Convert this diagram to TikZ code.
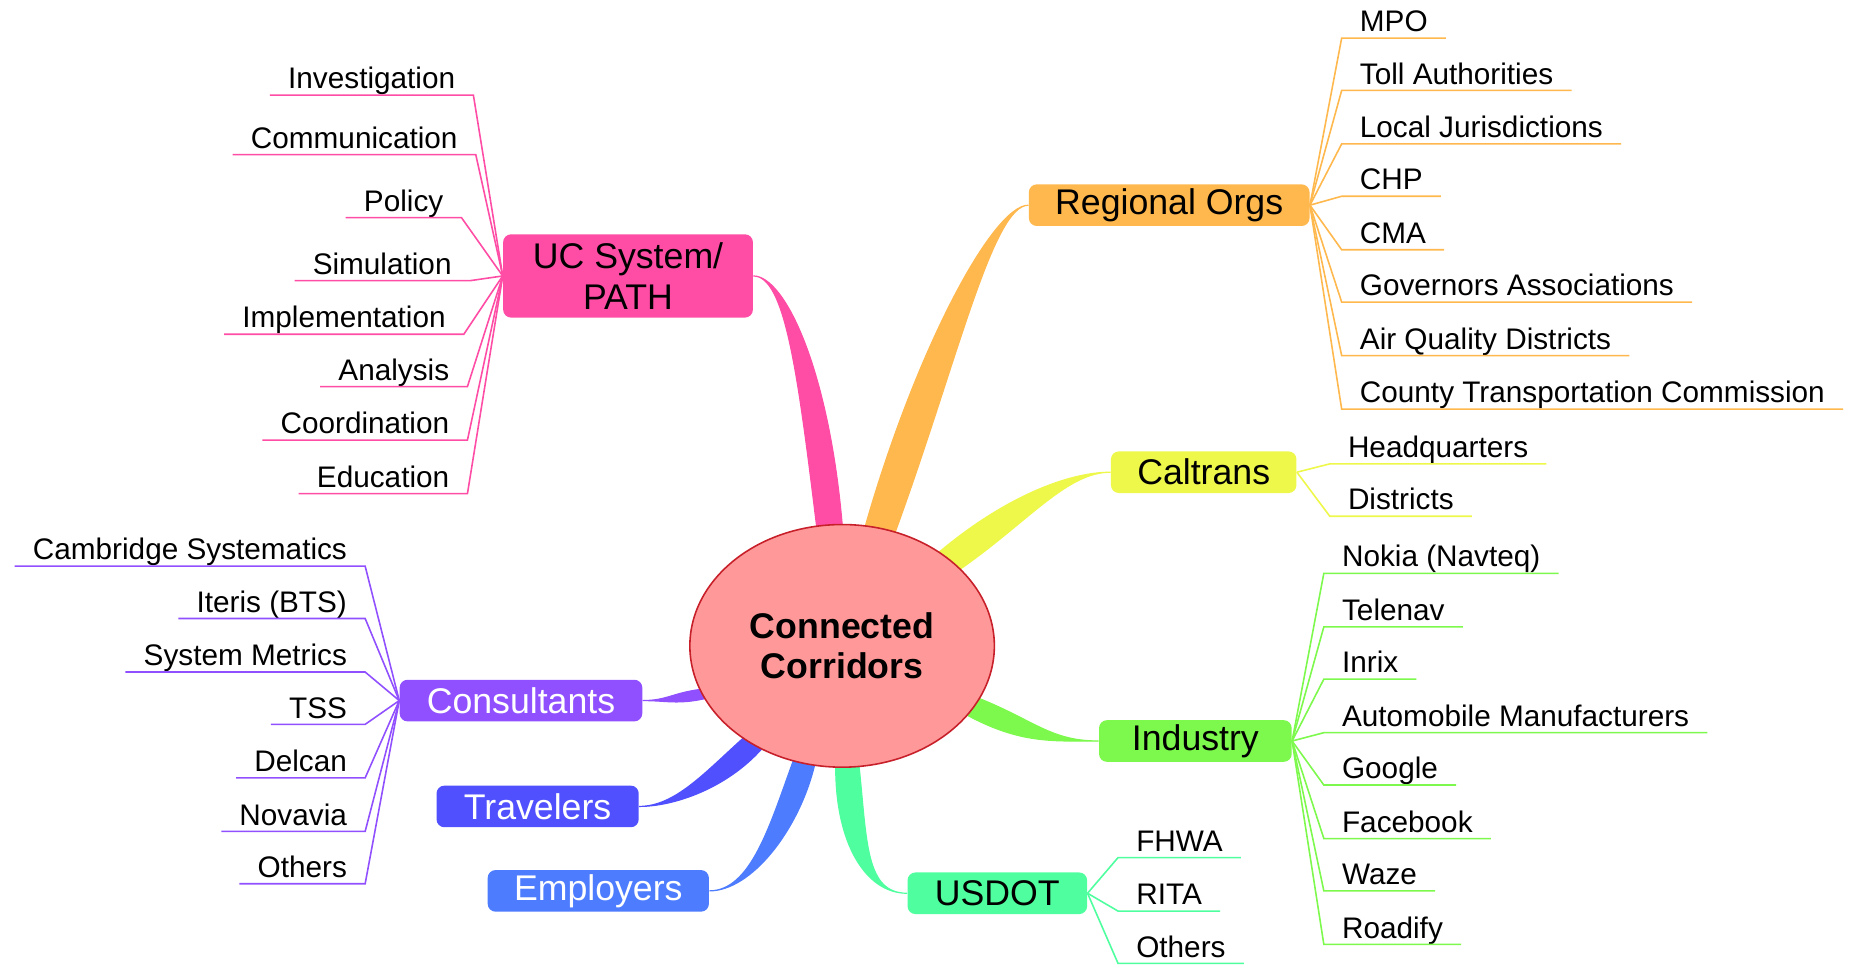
\documentclass[tikz,border=0pt]{standalone}
\usepackage{fontspec}
\setmainfont{Liberation Sans}
\usepackage{xcolor}
\usepackage{tikz}
\usetikzlibrary{shapes.geometric,backgrounds}

\definecolor{hubfill}{HTML}{FF9999}
\definecolor{hubline}{HTML}{C8202A}
\definecolor{ucpink}{HTML}{FF4DA6}
\definecolor{orgorange}{HTML}{FFB84D}
\definecolor{ctyellow}{HTML}{EEF84A}
\definecolor{indgreen}{HTML}{7CF94C}
\definecolor{dotmint}{HTML}{4FFF9F}
\definecolor{empblue}{HTML}{4D7CFF}
\definecolor{travindigo}{HTML}{5050FF}
\definecolor{conpurple}{HTML}{9050FF}

\begin{document}
\begin{tikzpicture}[x=0.6pt, y=0.6pt,
    hub/.style={ellipse, draw=hubline, fill=hubfill, line width=0.8pt,
      minimum width=153.6pt, minimum height=122.4pt, inner sep=0pt,
      font=\bfseries\fontsize{18}{20}\selectfont, align=center},
    branch/.style={rounded corners=4pt, minimum height=21pt, inner xsep=4pt,
      inner ysep=0pt, font=\fontsize{18}{20.4}\selectfont, align=center},
    leaf/.style={font=\fontsize{15}{18}\selectfont, inner xsep=9pt, inner ysep=0pt,
      text height=11pt, text depth=3pt},
    twig/.style={line width=0.8pt},
    limb/.style={line width=0.6pt}
  ]
    \useasboundingbox (0,0) rectangle (1568,-818);

    % Centre
    \node[hub] (cc) at (708,-543) {Connected\\Corridors};

    % Main branches
    \node[branch, fill=ucpink, minimum width=126pt, minimum height=42pt] (uc) at (528,-232) {UC System/\\PATH};
    \node[branch, fill=orgorange, minimum width=141.6pt] (ro) at (983,-172.5) {Regional Orgs};
    \node[branch, fill=ctyellow, minimum width=93.6pt] (ct) at (1012,-397) {Caltrans};
    \node[branch, fill=indgreen, minimum width=97.2pt] (ind) at (1005,-623) {Industry};
    \node[branch, fill=dotmint, minimum width=90.6pt] (dot) at (838.5,-751) {USDOT};
    \node[branch, fill=empblue, text=white, minimum width=111.6pt] (emp) at (503,-749) {Employers};
    \node[branch, fill=travindigo, text=white, minimum width=102pt] (trv) at (452,-678) {Travelers};
    \node[branch, fill=conpurple, text=white, minimum width=122.4pt] (con) at (438,-589) {Consultants};

    % Tapered limbs, tucked under the centre
    \begin{scope}[on background layer]
      \filldraw[limb, ucpink] (cc.102) to[out=97, in=0, out distance=78pt, in distance=16pt] (uc.east)
        to[out=0, in=95, out distance=16pt, in distance=78pt] (cc.90) -- cycle;
      \filldraw[limb, orgorange] (cc.79) to[out=74, in=180, out distance=92pt, in distance=18pt] (ro.west)
        to[out=180, in=70, out distance=18pt, in distance=92pt] (cc.65) -- cycle;
      \filldraw[limb, ctyellow] (cc.44) to[out=40, in=180, out distance=42pt, in distance=22pt] (ct.west)
        to[out=180, in=35, out distance=22pt, in distance=42pt] (cc.33) -- cycle;
      \filldraw[limb, indgreen] (cc.-21) to[out=-22, in=180, out distance=30pt, in distance=24pt] (ind.west)
        to[out=180, in=-28, out distance=24pt, in distance=30pt] (cc.-29) -- cycle;
      \filldraw[limb, dotmint] (cc.-93) to[out=-90, in=180, out distance=38pt, in distance=21pt] (dot.west)
        to[out=180, in=-84, out distance=21pt, in distance=38pt] (cc.-82) -- cycle;
      \filldraw[limb, empblue] (cc.-113) to[out=-110, in=0, out distance=34pt, in distance=21pt] (emp.east)
        to[out=0, in=-104, out distance=21pt, in distance=34pt] (cc.-103) -- cycle;
      \filldraw[limb, travindigo] (cc.-137) to[out=-138, in=0, out distance=26pt, in distance=18pt] (trv.east)
        to[out=0, in=-132, out distance=18pt, in distance=26pt] (cc.-128) -- cycle;
      \filldraw[limb, conpurple] (cc.-163) to[out=-172, in=0, out distance=14pt, in distance=12pt] (con.east)
        to[out=0, in=-168, out distance=12pt, in distance=14pt] (cc.-159) -- cycle;
    \end{scope}

    % UC System/PATH leaves
    \node[leaf, anchor=south east] (inv) at (398,-80) {Investigation};
    \node[leaf, anchor=south east] (comm) at (400,-130) {Communication};
    \node[leaf, anchor=south east] (pol) at (388,-183) {Policy};
    \node[leaf, anchor=south east] (sim) at (395,-236) {Simulation};
    \node[leaf, anchor=south east] (impl) at (390,-281) {Implementation};
    \node[leaf, anchor=south east] (ana) at (393,-325) {Analysis};
    \node[leaf, anchor=south east] (coord) at (393,-370) {Coordination};
    \node[leaf, anchor=south east] (edu) at (393,-415) {Education};
    \foreach \l in {inv,comm,pol,sim,impl,ana,coord,edu}
      \draw[twig, ucpink] (uc.west) -- (\l.south east) -- (\l.south west);

    % Regional Orgs leaves
    \node[leaf, anchor=south west] (mpo) at (1128,-32) {MPO};
    \node[leaf, anchor=south west] (toll) at (1128,-76) {Toll Authorities};
    \node[leaf, anchor=south west] (local) at (1128,-121) {Local Jurisdictions};
    \node[leaf, anchor=south west] (chp) at (1128,-165) {CHP};
    \node[leaf, anchor=south west] (cma) at (1128,-210) {CMA};
    \node[leaf, anchor=south west] (gov) at (1128,-254) {Governors Associations};
    \node[leaf, anchor=south west] (air) at (1128,-299) {Air Quality Districts};
    \node[leaf, anchor=south west] (county) at (1128,-344) {County Transportation Commission};
    \foreach \l in {mpo,toll,local,chp,cma,gov,air,county}
      \draw[twig, orgorange] (ro.east) -- (\l.south west) -- (\l.south east);

    % Caltrans leaves
    \node[leaf, anchor=south west] (hq) at (1118,-390) {Headquarters};
    \node[leaf, anchor=south west] (dist) at (1118,-434) {Districts};
    \foreach \l in {hq,dist}
      \draw[twig, ctyellow] (ct.east) -- (\l.south west) -- (\l.south east);

    % Industry leaves
    \node[leaf, anchor=south west] (nokia) at (1113,-482) {Nokia (Navteq)};
    \node[leaf, anchor=south west] (tele) at (1113,-527) {Telenav};
    \node[leaf, anchor=south west] (inrix) at (1113,-571) {Inrix};
    \node[leaf, anchor=south west] (auto) at (1113,-616) {Automobile Manufacturers};
    \node[leaf, anchor=south west] (goog) at (1113,-660) {Google};
    \node[leaf, anchor=south west] (fb) at (1113,-705) {Facebook};
    \node[leaf, anchor=south west] (waze) at (1113,-749) {Waze};
    \node[leaf, anchor=south west] (road) at (1113,-794) {Roadify};
    \foreach \l in {nokia,tele,inrix,auto,goog,fb,waze,road}
      \draw[twig, indgreen] (ind.east) -- (\l.south west) -- (\l.south east);

    % USDOT leaves
    \node[leaf, anchor=south west] (fhwa) at (940,-721) {FHWA};
    \node[leaf, anchor=south west] (rita) at (940,-766) {RITA};
    \node[leaf, anchor=south west] (dothers) at (940,-810) {Others};
    \foreach \l in {fhwa,rita,dothers}
      \draw[twig, dotmint] (dot.east) -- (\l.south west) -- (\l.south east);

    % Consultants leaves
    \node[leaf, anchor=south east] (camb) at (307,-476) {Cambridge Systematics};
    \node[leaf, anchor=south east] (iter) at (307,-520) {Iteris (BTS)};
    \node[leaf, anchor=south east] (sysm) at (307,-565) {System Metrics};
    \node[leaf, anchor=south east] (tss) at (307,-609) {TSS};
    \node[leaf, anchor=south east] (delc) at (307,-654) {Delcan};
    \node[leaf, anchor=south east] (nova) at (307,-699) {Novavia};
    \node[leaf, anchor=south east] (cothers) at (307,-743) {Others};
    \foreach \l in {camb,iter,sysm,tss,delc,nova,cothers}
      \draw[twig, conpurple] (con.west) -- (\l.south east) -- (\l.south west);

\end{tikzpicture}
\end{document}
